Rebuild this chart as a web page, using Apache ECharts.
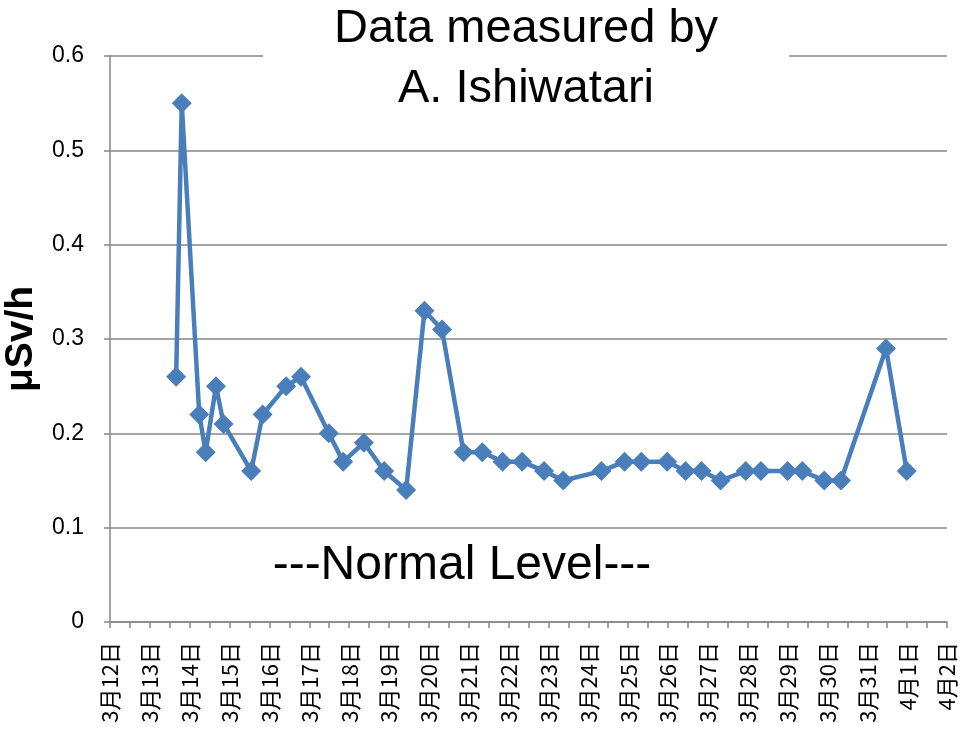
<!DOCTYPE html>
<html>
<head>
<meta charset="utf-8">
<script src="https://cdn.jsdelivr.net/npm/echarts@6/dist/echarts.min.js"></script>
<style>
  html, body { margin: 0; padding: 0; background: #fff; }
  #chart { width: 961px; height: 732px; }
</style>
</head>
<body>
<div id="chart"></div>
<script>
// start of the x axis (3月12日 00:00)
const startDate = '2011-03-12T00:00';

const measuredAt = [
    '2011-03-13T15:50', '2011-03-13T19:12', '2011-03-14T05:45', '2011-03-14T09:36',
    '2011-03-14T15:50', '2011-03-14T20:24', '2011-03-15T13:00', '2011-03-15T19:55',
    '2011-03-16T10:05', '2011-03-16T19:00', '2011-03-17T11:45', '2011-03-17T20:24',
    '2011-03-18T08:53', '2011-03-18T21:07', '2011-03-19T10:19', '2011-03-19T21:22',
    '2011-03-20T07:55', '2011-03-20T20:53', '2011-03-21T08:10', '2011-03-21T20:24',
    '2011-03-22T08:10', '2011-03-22T21:22', '2011-03-23T08:53', '2011-03-24T07:55',
    '2011-03-24T21:50', '2011-03-25T07:55', '2011-03-25T23:31', '2011-03-26T10:34',
    '2011-03-26T20:10', '2011-03-27T07:41', '2011-03-27T22:48', '2011-03-28T07:55',
    '2011-03-29T00:00', '2011-03-29T08:53', '2011-03-29T22:05', '2011-03-30T08:10',
    '2011-03-31T11:17', '2011-03-31T23:46'
];

// μSv/h
const doseRate = [
    0.26, 0.55, 0.22, 0.18, 0.25, 0.21, 0.16, 0.22,
    0.25, 0.26, 0.20, 0.17, 0.19, 0.16, 0.14, 0.33,
    0.31, 0.18, 0.18, 0.17, 0.17, 0.16, 0.15, 0.16,
    0.17, 0.17, 0.17, 0.16, 0.16, 0.15, 0.16, 0.16,
    0.16, 0.16, 0.15, 0.15, 0.29, 0.16
];

const dayLabels = [
    '3月12日', '3月13日', '3月14日', '3月15日', '3月16日', '3月17日', '3月18日',
    '3月19日', '3月20日', '3月21日', '3月22日', '3月23日', '3月24日', '3月25日',
    '3月26日', '3月27日', '3月28日', '3月29日', '3月30日', '3月31日', '4月1日', '4月2日'
];

const yTicks = ['0', '0.1', '0.2', '0.3', '0.4', '0.5', '0.6'];

const DAY = 86400000;
const t0 = Date.parse(startDate);
const points = measuredAt.map((t, i) => [(Date.parse(t) - t0) / DAY, doseRate[i]]);

const axisGray = '#868686';
const blue = '#4A7EBB';

const chart = echarts.init(document.getElementById('chart'));
chart.setOption({
    animation: false,
    backgroundColor: '#fff',
    title: {
        text: 'Data measured by\nA. Ishiwatari',
        left: 455,
        top: -1,
        textAlign: 'center',
        padding: [0, 71, 0, 71],
        backgroundColor: '#fff',
        textStyle: {
            fontFamily: 'Liberation Sans',
            fontSize: 47,
            fontWeight: 'normal',
            lineHeight: 60,
            color: '#000'
        }
    },
    grid: {
        left: 110,
        right: 14,
        top: 56,
        bottom: 110,
        outerBoundsMode: 'none'
    },
    xAxis: {
        type: 'value',
        min: 0,
        max: dayLabels.length - 1,
        interval: 1,
        splitLine: {show: false},
        axisLine: {lineStyle: {color: axisGray, width: 1.5}},
        axisTick: {show: true, length: 6, lineStyle: {color: axisGray, width: 1.5}},
        minorTick: {show: true, splitNumber: 2, length: 6, lineStyle: {color: axisGray, width: 1.5}},
        axisLabel: {
            rotate: 90,
            margin: 20,
            fontSize: 22,
            fontFamily: 'Noto Sans CJK JP',
            color: '#000',
            formatter: (v) => dayLabels[Math.round(v)]
        }
    },
    yAxis: {
        type: 'value',
        min: 0,
        max: 0.6,
        interval: 0.1,
        name: 'μSv/h',
        nameLocation: 'middle',
        nameGap: 66,
        nameTextStyle: {
            fontFamily: 'Liberation Sans',
            fontSize: 39,
            fontWeight: 'bold',
            color: '#000'
        },
        axisLine: {show: true, lineStyle: {color: axisGray, width: 1.5}},
        axisTick: {show: true, length: 6, lineStyle: {color: axisGray, width: 1.5}},
        splitLine: {lineStyle: {color: axisGray, width: 1.5}},
        axisLabel: {
            margin: 26,
            fontSize: 23,
            fontFamily: 'Liberation Sans',
            color: '#000',
            formatter: (v) => yTicks[Math.round(v * 10)]
        }
    },
    graphic: [{
        type: 'text',
        x: 462,
        y: 566,
        style: {
            text: '---Normal Level---',
            font: '48px "Liberation Sans"',
            fill: '#000',
            align: 'center',
            verticalAlign: 'middle'
        }
    }],
    series: [{
        type: 'line',
        data: points,
        symbol: 'diamond',
        symbolSize: 20,
        lineStyle: {color: blue, width: 4.5},
        itemStyle: {color: blue}
    }]
});
</script>
</body>
</html>
